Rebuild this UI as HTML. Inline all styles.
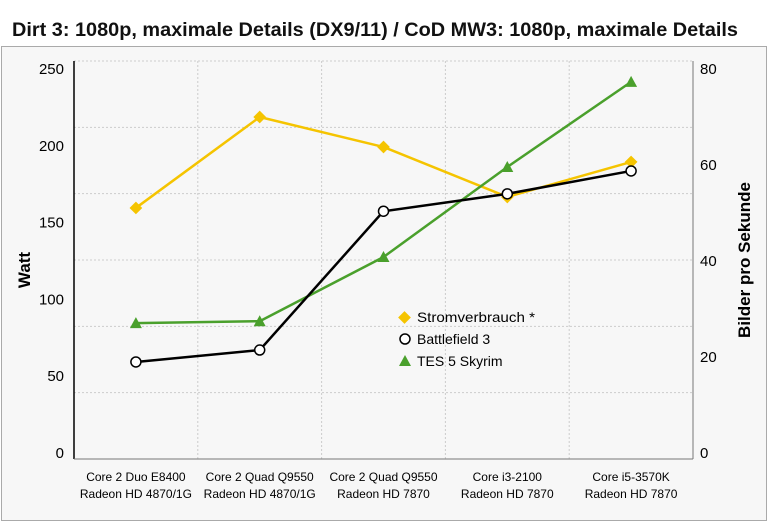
<!DOCTYPE html>
<html><head><meta charset="utf-8"><style>
body{margin:0;background:#fff;font-family:"Liberation Sans","DejaVu Sans",sans-serif}
</style></head><body>
<svg width="768" height="525" xmlns="http://www.w3.org/2000/svg" font-family="Liberation Sans, DejaVu Sans, sans-serif">
<text x="12" y="36" font-size="19" font-weight="bold" fill="#111" textLength="726" lengthAdjust="spacingAndGlyphs">Dirt 3: 1080p, maximale Details (DX9/11) / CoD MW3: 1080p, maximale Details</text>
<rect x="1.5" y="46.5" width="765" height="474" fill="#f7f7f7" stroke="#aaa"/>
<g id="grid"></g>
<line x1="74" y1="61" x2="74" y2="459" stroke="#000" stroke-width="1.5"/>
<line x1="693" y1="61" x2="693" y2="459" stroke="#777"/>
<line x1="74" y1="459" x2="693" y2="459" stroke="#777"/>
<g id="ticks"></g>
<g id="series"></g>
<text transform="translate(30,270) rotate(-90)" text-anchor="middle" font-size="17" font-weight="bold">Watt</text>
<text transform="translate(750,260) rotate(-90)" text-anchor="middle" font-size="17" font-weight="bold">Bilder pro Sekunde</text>
<g font-size="14">
<g><rect x="400" y="313" width="9" height="9" fill="#f5c400" transform="rotate(45 404.5 317.5)"/><text x="417" y="322" textLength="118" lengthAdjust="spacingAndGlyphs">Stromverbrauch *</text></g>
<g><circle cx="405" cy="339" r="5" fill="#fff" stroke="#000" stroke-width="1.5"/><text x="417" y="344">Battlefield 3</text></g>
<g><polygon points="399,366 411,366 405,355" fill="#4aa02c"/><text x="417" y="366">TES 5 Skyrim</text></g>
</g>
</svg>
<script>
const categories1=["Core 2 Duo E8400","Core 2 Quad Q9550","Core 2 Quad Q9550","Core i3-2100","Core i5-3570K"];
const categories2=["Radeon HD 4870/1G","Radeon HD 4870/1G","Radeon HD 7870","Radeon HD 7870","Radeon HD 7870"];
const strom=[157.7,214.8,196,164.6,186.6];
const bf3=[19.5,21.9,49.8,53.3,57.9];
const skyrim=[27.3,27.7,40.6,58.7,75.8];
const leftTicks=[0,50,100,150,200,250];
const rightTicks=[0,20,40,60,80];
const NS="http://www.w3.org/2000/svg";
const X0=74,X1=693,Y0=459,Y1=61;
const bw=(X1-X0)/categories1.length;
const xs=i=>X0+bw*(i+0.5);
const yL=v=>Y0-v/250*(Y0-Y1);
const yR=v=>Y0-v/80*(Y0-Y1);
function mk(t,a,p){const e=document.createElementNS(NS,t);for(const k in a)e.setAttribute(k,a[k]);p.appendChild(e);return e;}
const grid=document.getElementById('grid'),ticks=document.getElementById('ticks'),ser=document.getElementById('series');
for(let i=1;i<6;i++){const y=Y1+i*(Y0-Y1)/6;const l=mk('line',{x1:X0,x2:X1,y1:y,y2:y,stroke:'#ccc','stroke-dasharray':'2,2'},grid);

}
mk('line',{x1:X0,x2:X1,y1:Y1,y2:Y1,stroke:'#ccc','stroke-dasharray':'2,2'},grid);
for(let i=1;i<categories1.length;i++){const x=X0+i*bw;const l=mk('line',{x1:x,x2:x,y1:Y1,y2:Y0,stroke:'#ccc','stroke-dasharray':'2,2'},grid);

}
leftTicks.forEach(v=>{const t=mk('text',{x:64,y:452-v/250*384+6,'text-anchor':'end','font-size':15},ticks);t.textContent=v;

});
rightTicks.forEach(v=>{const t=mk('text',{x:700,y:452-v/80*384+6,'font-size':15},ticks);t.textContent=v;

});
categories1.forEach((c,i)=>{const t=mk('text',{x:xs(i),y:481,'text-anchor':'middle','font-size':12},ticks);t.textContent=c;


const t2=mk('text',{x:xs(i),y:498,'text-anchor':'middle','font-size':12},ticks);t2.textContent=categories2[i];

});
function line(data,yf,col,name){const p=mk('polyline',{points:data.map((v,i)=>xs(i)+','+yf(v)).join(' '),fill:'none',stroke:col,'stroke-width':2.5},ser);

}
line(strom,yL,'#f5c400','stromverbrauch');
line(skyrim,yR,'#4aa02c','skyrim');
line(bf3,yR,'#000','battlefield');
strom.forEach((v,i)=>{const x=xs(i),y=yL(v);const m=mk('rect',{x:x-4.5,y:y-4.5,width:9,height:9,fill:'#f5c400',transform:`rotate(45 ${x} ${y})`},ser);

});
skyrim.forEach((v,i)=>{const x=xs(i),y=yR(v);const m=mk('polygon',{points:`${x-6},${y+5} ${x+6},${y+5} ${x},${y-6}`,fill:'#4aa02c'},ser);

});
bf3.forEach((v,i)=>{const m=mk('circle',{cx:xs(i),cy:yR(v),r:5,fill:'#fff',stroke:'#000','stroke-width':1.5},ser);

});
</script>
</body></html>
